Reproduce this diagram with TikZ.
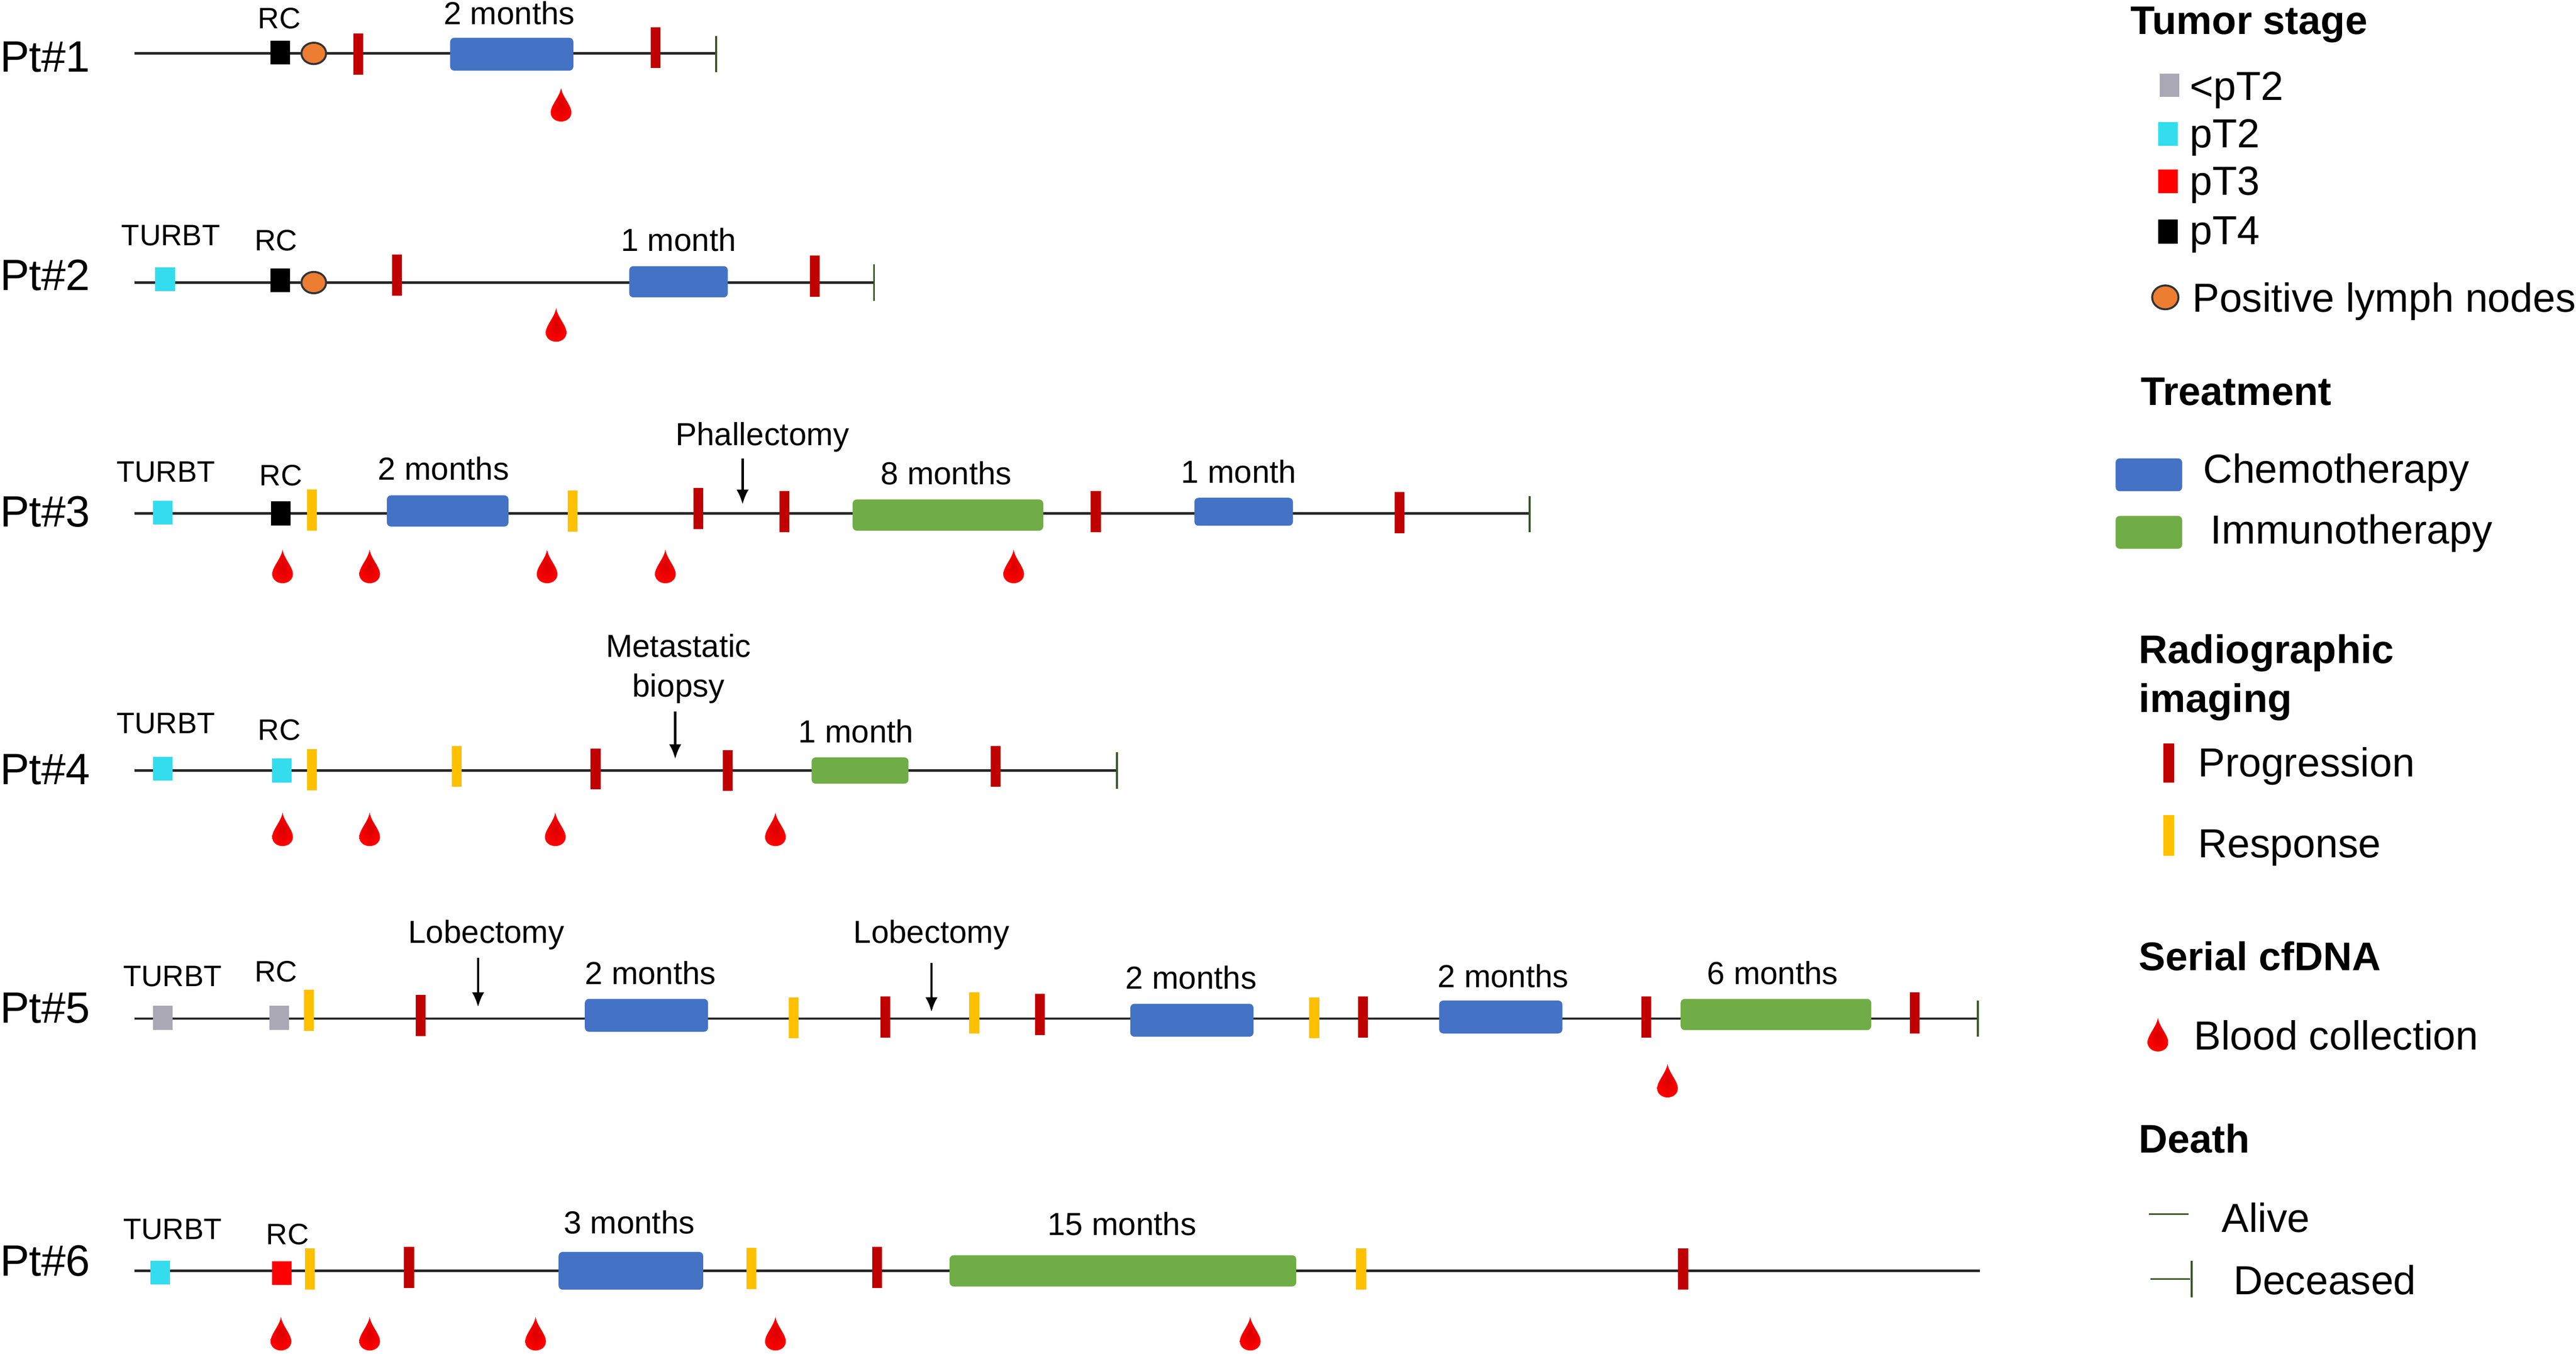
\documentclass[tikz,border=0pt]{standalone}
\usepackage{fontspec}
\setmainfont{Liberation Sans}
\usetikzlibrary{shapes.geometric, arrows.meta}
\definecolor{ProgressRed}{HTML}{C00000}
\definecolor{ResponseYellow}{HTML}{FFC000}
\definecolor{ChemoBlue}{HTML}{4472C4}
\definecolor{ImmunoGreen}{HTML}{70AD47}
\definecolor{NodeOrange}{HTML}{ED7D31}
\definecolor{StageCyan}{HTML}{33DDEE}
\definecolor{StageGray}{HTML}{ABA8B5}
\definecolor{DeathGreen}{HTML}{385723}
% row/y/end of line
\def\Timelines{1/32.5/436, 2/172/532, 3/312.5/931, 4/469/680, 5/620/1204, 6/773.5/1205}
\def\Patients{1/34, 2/167, 3/311, 4/468, 5/613, 6/767}
\def\DeathTicks{436/33, 532/172, 931/313, 680/469, 1204/620}
\def\StageMarks{170.5/32/black, 100.5/170/StageCyan, 170.5/170.5/black, 99/312/StageCyan, 171/312.5/black,
	99/468/StageCyan, 171.5/469/StageCyan, 99/619.5/StageGray, 170/619.5/StageGray,
	97.5/774.5/StageCyan, 171.5/775/red}
\def\SurgeryLabels{170/11/RC, 104/143/TURBT, 168/146/RC, 101/287/TURBT, 171/289/RC, 101/440/TURBT, 170/444/RC,
	105/594/TURBT, 168/591/RC, 105/748/TURBT, 175/751/RC}
\def\ProgressionBars{218/33, 399/29, 241.5/167.5, 496/168, 425/309.5, 477.5/311.5, 667/311.5, 852/312,
	362.5/468, 443/469, 606/466.5, 256/618, 539/619, 633/617.5, 829.5/619, 1002/619, 1165.5/616.5,
	249/771.5, 534/771.5, 1024.5/772.5}
\def\ResponseBars{190/310.5, 348.5/311, 190/468.5, 278/466.5, 188/615, 483/619.5, 593/616.5, 800/619.5,
	188.5/772.5, 457.5/772, 828.5/772.5}
% centre x/centre y/width/height/label x/label y/label
\def\ChemoBoxes{311.5/33/75/20/310/8/2 months, 413/171.5/60/19/413/146/1 month, 272.5/311/74/19/270/285/2 months,
	757/311.5/60/17/754/287/1 month, 393.5/618/75/20/396/592/2 months, 725.5/621/75/20/725/595/2 months,
	913.5/619/75/20/915/594/2 months, 384/773.5/88/23/383/744/3 months}
\def\ImmunoBoxes{577/313.5/116/19/576/288/8 months, 523.5/469/59/16/521/445/1 month,
	1081/617.5/116/19/1079/592/6 months, 683.5/773.5/211/19/683/745/15 months}
% label x/label y/label/arrow x/arrow top/arrow tip
\def\SurgeryArrows{464/264/Phallectomy/452/279/307, 296/567/Lobectomy/291/583/613, 567/567/Lobectomy/567/586/616}
\def\BloodDrops{341.5/64, 338.5/198, 172/345, 225/345, 333/345, 405/345, 617/345, 172/505, 225/505, 338/505, 472/505,
	1015/658, 171/812, 225/812, 326/812, 472/812, 761/812}
% legend
\def\LegendHeads{1297/12/Tumor stage, 1303/238/Treatment, 1302/395/Radiographic, 1302/425/imaging,
	1302/582/Serial cfDNA, 1302/693/Death}
\def\LegendTexts{1333/52/<pT2, 1333/81/pT2, 1333/110/pT3, 1333/140/pT4, 1334.5/181/Positive lymph nodes,
	1341/285/Chemotherapy, 1345.5/322/Immunotherapy, 1338/464/Progression, 1338/513/Response,
	1335.5/630/Blood collection, 1352.5/741/Alive, 1359.5/779/Deceased}
\tikzset{
	Timeline/.style={draw=black!85, line width=1.5pt},
	Plain/.style={inner sep=0pt, outer sep=0pt, text depth=0pt},
	PatientText/.style={Plain, anchor=west, text height=19.2pt, font=\fontsize{26.7}{30}\selectfont},
	SmallText/.style={Plain, text height=13pt, font=\fontsize{18}{21}\selectfont},
	StepText/.style={Plain, text height=14pt, font=\fontsize{19.4}{22}\selectfont},
	LegendText/.style={Plain, anchor=west, text height=17.7pt, font=\fontsize{24.7}{28}\selectfont},
	LegendHead/.style={Plain, anchor=west, text height=17.4pt, font=\bfseries\fontsize{24.3}{28}\selectfont},
	StageMark/.style={inner sep=0pt, minimum width=12pt, minimum height=14.5pt, fill=#1},
	ImagingBar/.style={inner sep=0pt, minimum width=6pt, minimum height=25pt, fill=#1},
	LymphNode/.style={ellipse, draw=black!80, line width=1.2pt, fill=NodeOrange, inner sep=0pt, minimum width=15pt, minimum height=13pt},
	Therapy/.style={rounded corners=2.5pt, inner sep=0pt, fill=#1},
	SurgeryArrow/.style={-{Latex[length=9pt, width=7.5pt]}, line width=1.5pt},
	DeathTick/.style={inner sep=0pt, minimum width=1.2pt, minimum height=22pt, fill=DeathGreen},
	DeathLine/.style={draw=DeathGreen, line width=1.2pt},
	BloodDrop/.pic={
		\shade [inner color=red!85!black, outer color=red]
			(0,-10.5) .. controls (0.8,-5) and (6.3,0) .. (6.3,4.5)
			.. controls (6.3,7.8) and (3.3,10) .. (0,10)
			.. controls (-3.3,10) and (-6.3,7.8) .. (-6.3,4.5)
			.. controls (-6.3,0) and (-0.8,-5) .. (0,-10.5) -- cycle;
	},
}
\begin{document}
\begin{tikzpicture}[x=1pt, y=-1pt]
	\useasboundingbox (0,0) rectangle (1568,824);
	\foreach \row/\Ypos/\Xend in \Timelines {%
		\coordinate (Start\row) at (82,\Ypos);
		\coordinate (End\row) at (\Xend,\Ypos);
		\draw [Timeline] (Start\row) -- (End\row);
	}
	\foreach \row/\Ypos in \Patients {%
		\node [PatientText] (Patient\row) at (0,\Ypos) {Pt\#\row};
	}
	\foreach \Xpos/\Ypos [count=\i] in \DeathTicks {%
		\node [DeathTick] (Tick\i) at (\Xpos,\Ypos) {};
	}
	\foreach \Xpos/\Ypos/\Colour [count=\i] in \StageMarks {%
		\node [StageMark=\Colour] (Stage\i) at (\Xpos,\Ypos) {};
	}
	\node [LymphNode] (Lymph1) at (191,32.5) {};
	\node [LymphNode] (Lymph2) at (191,172) {};
	\foreach \Xpos/\Ypos/\Name [count=\i] in \SurgeryLabels {%
		\node [SmallText] (Surgery\i) at (\Xpos,\Ypos) {\Name};
	}
	\foreach \Xpos/\Ypos [count=\i] in \ProgressionBars {%
		\node [ImagingBar=ProgressRed] (Progression\i) at (\Xpos,\Ypos) {};
	}
	\foreach \Xpos/\Ypos [count=\i] in \ResponseBars {%
		\node [ImagingBar=ResponseYellow] (Response\i) at (\Xpos,\Ypos) {};
	}
	\foreach \Xpos/\Ypos/\Wide/\High/\Xlab/\Ylab/\Name [count=\i] in \ChemoBoxes {%
		\node [Therapy=ChemoBlue, minimum width=\Wide pt, minimum height=\High pt] (Chemo\i) at (\Xpos,\Ypos) {};
		\node [StepText] (ChemoText\i) at (\Xlab,\Ylab) {\Name};
	}
	\foreach \Xpos/\Ypos/\Wide/\High/\Xlab/\Ylab/\Name [count=\i] in \ImmunoBoxes {%
		\node [Therapy=ImmunoGreen, minimum width=\Wide pt, minimum height=\High pt] (Immuno\i) at (\Xpos,\Ypos) {};
		\node [StepText] (ImmunoText\i) at (\Xlab,\Ylab) {\Name};
	}
	\foreach \Xlab/\Ylab/\Name/\Xpos/\Ytop/\Ytip [count=\i] in \SurgeryArrows {%
		\node [StepText] (Operation\i) at (\Xlab,\Ylab) {\Name};
		\coordinate (ArrowTop\i) at (\Xpos,\Ytop);
		\coordinate (ArrowTip\i) at (\Xpos,\Ytip);
		\draw [SurgeryArrow] (ArrowTop\i) -- (ArrowTip\i);
	}
	\node [StepText] (Metastatic) at (413,393) {Metastatic};
	\node [StepText] (Biopsy) at (413,417) {biopsy};
	\coordinate (BiopsyTop) at (411,433);
	\coordinate (BiopsyTip) at (411,462);
	\draw [SurgeryArrow] (BiopsyTop) -- (BiopsyTip);
	\foreach \Xpos/\Ypos in \BloodDrops {%
		\pic at (\Xpos,\Ypos) {BloodDrop};
	}
	% legend
	\foreach \Xpos/\Ypos/\Name [count=\i] in \LegendHeads {%
		\node [LegendHead] (Head\i) at (\Xpos,\Ypos) {\Name};
	}
	\foreach \Xpos/\Ypos/\Name [count=\i] in \LegendTexts {%
		\node [LegendText] (Entry\i) at (\Xpos,\Ypos) {\Name};
	}
	\node [StageMark=StageGray, minimum height=14pt] (KeyLow) at (1320.5,52) {};
	\node [StageMark=StageCyan] (KeyTwo) at (1319.5,81.5) {};
	\node [StageMark=red] (KeyThree) at (1319.5,110.5) {};
	\node [StageMark=black] (KeyFour) at (1319.5,141) {};
	\node [LymphNode, minimum width=16pt, minimum height=14.5pt] (KeyLymph) at (1318,181) {};
	\node [Therapy=ChemoBlue, minimum width=40.5pt, minimum height=20pt] (KeyChemo) at (1308,289) {};
	\node [Therapy=ImmunoGreen, minimum width=40.5pt, minimum height=20pt] (KeyImmuno) at (1308,324) {};
	\node [ImagingBar=ProgressRed, minimum width=6.5pt, minimum height=24pt] (KeyProgression) at (1320,464.5) {};
	\node [ImagingBar=ResponseYellow, minimum width=6.5pt] (KeyResponse) at (1320,508.5) {};
	\pic at (1313.5,630) {BloodDrop};
	\coordinate (AliveFrom) at (1308,739);
	\coordinate (AliveTo) at (1332,739);
	\draw [DeathLine] (AliveFrom) -- (AliveTo);
	\coordinate (DeceasedFrom) at (1309,778.5);
	\node [DeathTick] (KeyTick) at (1334,778.5) {};
	\draw [DeathLine] (DeceasedFrom) -- (KeyTick);
\end{tikzpicture}
\end{document}
